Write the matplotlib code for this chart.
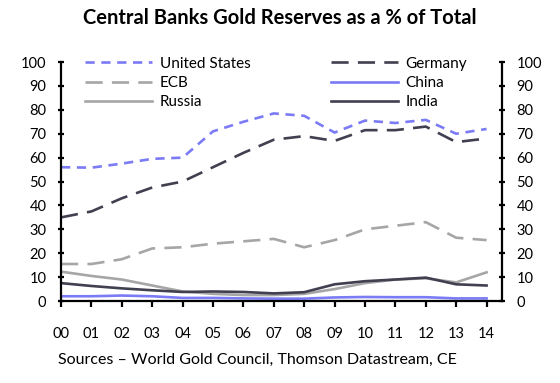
#! /usr/bin/env python
# -*- coding: utf-8 -*-
"""
Central banks gold reserves as a % of total reserves
"""
import numpy as np
import matplotlib
matplotlib.use('Agg')
import matplotlib.pyplot as plt

## Data
years = ['00', '01', '02', '03', '04', '05', '06', '07', '08', '09',
         '10', '11', '12', '13', '14']
united_states = [56, 55.8, 57.5, 59.5, 60, 71, 75, 78.5, 77.5, 70.5,
                 75.5, 74.5, 75.8, 70, 72]
germany = [35, 37.5, 43, 47.5, 50, 56, 62, 67.5, 69, 67,
           71.5, 71.5, 73, 66.5, 68]
ecb = [15.5, 15.5, 17.5, 22, 22.5, 24, 25, 26, 22.5, 25.5,
       30, 31.5, 33, 26.5, 25.5]
china = [2, 2, 2.3, 2, 1.3, 1.3, 1.1, 1, 1, 1.5,
         1.7, 1.6, 1.6, 1.1, 1.1]
russia = [12.3, 10.5, 9, 6.5, 4, 3, 2.5, 2.5, 3, 5,
          7.5, 9, 9.5, 7.8, 12]
india = [7.5, 6.3, 5.3, 4.5, 3.8, 4, 3.8, 3.2, 3.7, 7,
         8.3, 9, 9.8, 7, 6.5]
y_ticks = [0, 10, 20, 30, 40, 50, 60, 70, 80, 90, 100]

# Colours
blue = '#7b7bf5'
dark = '#404050'
grey = '#a6a6a6'

plt.rcParams['font.family'] = ['Lato', 'DejaVu Sans']


def main():
    fig = plt.figure(figsize=(5.6, 3.83), dpi=100)
    ax = fig.add_axes([0.109, 0.214, 0.787, 0.624])
    x = np.arange(len(years))
    lw = 1.9
    #
    # Series
    l_us, = ax.plot(x, united_states, color=blue, lw=lw, dashes=(3.5, 2.5),
                    label='United States')
    l_de, = ax.plot(x, germany, color=dark, lw=lw, dashes=(6.5, 3.5),
                    label='Germany')
    l_ecb, = ax.plot(x, ecb, color=grey, lw=lw, dashes=(6.5, 3.5),
                     label='ECB')
    l_ru, = ax.plot(x, russia, color=grey, lw=lw, label='Russia')
    l_in, = ax.plot(x, india, color=dark, lw=lw, label='India')
    l_cn, = ax.plot(x, china, color=blue, lw=lw, label='China')
    #
    # Axes
    ax.set_xlim(0, 14.5)
    ax.set_ylim(0, 100)
    ax.set_xticks(x)
    ax.set_xticklabels(years)
    ax.set_yticks(y_ticks)
    ax.spines['top'].set_visible(False)
    for side in ['left', 'right', 'bottom']:
        ax.spines[side].set_linewidth(1.6)
    ax.tick_params(axis='x', direction='out', length=4, width=1.6,
                   pad=15, labelsize=10.5)
    ax.tick_params(axis='y', direction='inout', length=5, width=1.6,
                   labelsize=10.5, pad=8, left=True, right=True,
                   labelleft=True, labelright=True)
    #
    # Legends
    leg_kw = dict(frameon=False, fontsize=11, handlelength=4.4,
                  handletextpad=0.5, labelspacing=0.35, borderpad=0,
                  borderaxespad=0, loc='upper left')
    leg1 = ax.legend([l_us, l_ecb, l_ru], ['United States', 'ECB', 'Russia'],
                     bbox_to_anchor=(0.054, 1.023), **leg_kw)
    ax.add_artist(leg1)
    ax.legend([l_de, l_cn, l_in], ['Germany', 'China', 'India'],
              bbox_to_anchor=(0.612, 1.023), **leg_kw)
    #
    # Title and source
    fig.text(0.5, 0.952, 'Central Banks Gold Reserves as a % of Total',
             ha='center', va='center', fontsize=14.5, fontweight='bold')
    fig.text(0.104, 0.06, 'Sources \u2013 World Gold Council, Thomson '
             'Datastream, CE', ha='left', va='center', fontsize=11.5)
    fig.savefig('out.png', dpi=100, facecolor='white')


if __name__ == '__main__':
    main()
